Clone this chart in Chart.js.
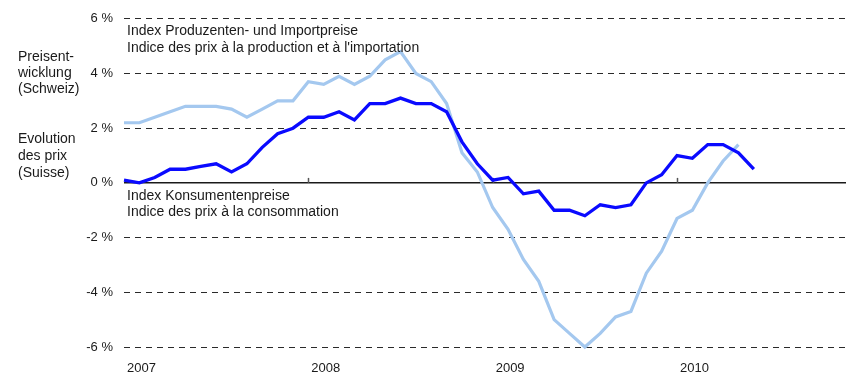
<!DOCTYPE html>
<html>
<head>
<meta charset="utf-8">
<script src="https://cdn.jsdelivr.net/npm/chart.js@4"></script>
<style>
  html, body { margin: 0; padding: 0; background: #fff; }
  #wrap { width: 860px; height: 377px; position: relative; }
</style>
</head>
<body>
<div id="wrap"><canvas id="price-chart"></canvas></div>
<script>
// monthly observations, Jan 2007 - Dec 2010
const months = [
  '01.2007', '02.2007', '03.2007', '04.2007', '05.2007', '06.2007', '07.2007', '08.2007', '09.2007', '10.2007', '11.2007', '12.2007',
  '01.2008', '02.2008', '03.2008', '04.2008', '05.2008', '06.2008', '07.2008', '08.2008', '09.2008', '10.2008', '11.2008', '12.2008',
  '01.2009', '02.2009', '03.2009', '04.2009', '05.2009', '06.2009', '07.2009', '08.2009', '09.2009', '10.2009', '11.2009', '12.2009',
  '01.2010', '02.2010', '03.2010', '04.2010', '05.2010', '06.2010', '07.2010', '08.2010', '09.2010', '10.2010', '11.2010', '12.2010'
];
const years = ['2007', '2008', '2009', '2010'];

// Landesindex der Konsumentenpreise, Veränderung gegenüber Vorjahr in %
const consumerPrices = [
  0.1, 0.0, 0.2, 0.5, 0.5, 0.6, 0.7, 0.4, 0.7, 1.3, 1.8, 2.0,
  2.4, 2.4, 2.6, 2.3, 2.9, 2.9, 3.1, 2.9, 2.9, 2.6, 1.5, 0.7,
  0.1, 0.2, -0.4, -0.3, -1.0, -1.0, -1.2, -0.8, -0.9, -0.8, 0.0, 0.3,
  1.0, 0.9, 1.4, 1.4, 1.1, 0.5
];

// Produzenten- und Importpreise, Veränderung gegenüber Vorjahr in %
const producerPrices = [
  2.2, 2.2, 2.4, 2.6, 2.8, 2.8, 2.8, 2.7, 2.4, 2.7, 3.0, 3.0,
  3.7, 3.6, 3.9, 3.6, 3.9, 4.5, 4.8, 4.0, 3.7, 2.9, 1.1, 0.4,
  -0.9, -1.7, -2.8, -3.6, -5.0, -5.5, -6.0, -5.5, -4.9, -4.7, -3.3, -2.5,
  -1.3, -1.0, 0.0, 0.8, 1.4
];

const yTicks = [-6, -4, -2, 0, 2, 4, 6];

const FONT = '"Liberation Sans", Arial, sans-serif';
const TEXT = '#1a1a1a';

// side captions and series captions
const textPlugin = {
  id: 'captions',
  afterDatasetsDraw(chart) {
    const ctx = chart.ctx;
    ctx.save();
    ctx.font = '14px ' + FONT;
    ctx.fillStyle = TEXT;
    ctx.textBaseline = 'middle';
    ctx.textAlign = 'left';
    [['Preisent-', 57], ['wicklung', 73], ['(Schweiz)', 89],
     ['Evolution', 139], ['des prix', 156], ['(Suisse)', 173]].forEach(([t, y]) => ctx.fillText(t, 18, y));

    const x = chart.chartArea.left + 3;
    ctx.fillText('Index Produzenten- und Importpreise', x, 31);
    ctx.fillText('Indice des prix à la production et à l\'importation', x, 48);
    ctx.fillText('Index Konsumentenpreise', x, 196);
    ctx.fillText('Indice des prix à la consommation', x, 212);
    ctx.restore();
  }
};

// short year markers sitting on the zero line
const yearMarks = {
  id: 'yearMarks',
  beforeDatasetsDraw(chart) {
    const { ctx, scales: { x, y } } = chart;
    const y0 = y.getPixelForValue(0);
    ctx.save();
    ctx.strokeStyle = '#555';
    ctx.lineWidth = 1.5;
    for (let i = 12; i < months.length; i += 12) {
      const px = Math.round(x.getPixelForValue(i)) + 0.5;
      ctx.beginPath();
      ctx.moveTo(px, y0);
      ctx.lineTo(px, y0 - 5);
      ctx.stroke();
    }
    ctx.restore();
  }
};

new Chart(document.getElementById('price-chart'), {
  type: 'line',
  data: {
    labels: months,
    datasets: [
      {
        label: 'Index Konsumentenpreise',
        data: consumerPrices,
        borderColor: '#0a0aff',
        borderWidth: 3.3,
        pointRadius: 0,
        tension: 0,
        clip: false,
        order: 0
      },
      {
        label: 'Index Produzenten- und Importpreise',
        data: producerPrices,
        borderColor: '#a4c8ef',
        borderWidth: 3.2,
        pointRadius: 0,
        tension: 0,
        clip: false,
        order: 1
      }
    ]
  },
  options: {
    responsive: true,
    maintainAspectRatio: false,
    animation: false,
    devicePixelRatio: 1,
    layout: { padding: { top: 16, right: 9, left: 0, bottom: 0 } },
    plugins: {
      legend: { display: false },
      tooltip: { enabled: false }
    },
    scales: {
      x: {
        type: 'category',
        offset: false,
        grid: { display: false, drawTicks: false },
        border: { display: false },
        ticks: {
          autoSkip: false,
          maxRotation: 0,
          align: 'start',
          labelOffset: 3,
          padding: 14,
          color: TEXT,
          font: { family: FONT, size: 13 },
          callback: (v, i) => (i % 12 === 0 ? years[i / 12] : '')
        },
        afterFit: (scale) => { scale.height = 30; }
      },
      y: {
        min: yTicks[0],
        max: yTicks[yTicks.length - 1],
        afterBuildTicks: (scale) => { scale.ticks = yTicks.map(v => ({ value: v })); },
        grid: {
          drawTicks: false,
          color: (c) => (c.tick && c.tick.value === 0 ? '#1a1a1a' : '#2a2a2a'),
          lineWidth: (c) => (c.tick && c.tick.value === 0 ? 1.6 : 1)
        },
        border: {
          display: false,
          dash: (c) => (c.tick && c.tick.value === 0 ? [] : [6, 5])
        },
        ticks: {
          padding: 11,
          color: TEXT,
          font: { family: FONT, size: 13 },
          callback: (v) => v + ' %'
        },
        afterFit: (scale) => { scale.width = 124; }
      }
    }
  },
  plugins: [yearMarks, textPlugin]
});
</script>
</body>
</html>
